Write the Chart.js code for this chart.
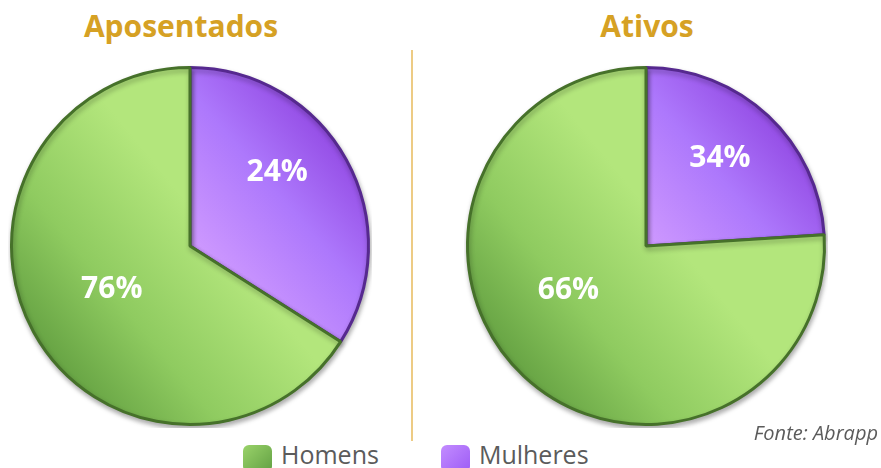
<!DOCTYPE html>
<html lang="pt-BR">
<head>
<meta charset="utf-8">
<script src="https://cdn.jsdelivr.net/npm/chart.js@4.4.1/dist/chart.umd.min.js"></script>
<style>
  html, body { margin: 0; padding: 0; background: #fff; }
  body { width: 881px; height: 468px; position: relative; overflow: hidden; font-family: "Open Sans", sans-serif; }
  .titulo { position: absolute; top: 5px; width: 300px; text-align: center; color: #D6A124; font-weight: 700; font-size: 30px; }
  .pizza { position: absolute; top: 64px; width: 364px; height: 364px; }
  #divisor { position: absolute; left: 411px; top: 50px; width: 2px; height: 391px; background: #EDCB84; }
  #legenda { position: absolute; top: 436px; left: 243px; display: flex; gap: 0; }
  .item { display: flex; align-items: center; color: #5b5b5b; font-size: 25px; margin-right: 62px; }
  .quadrado { width: 29px; height: 27px; border-radius: 6px; margin-right: 9px; margin-top: 9px; }
  #fonte { position: absolute; right: 3px; top: 419px; color: #5b5b5b; font-size: 20px; font-style: italic; }
</style>
</head>
<body>
<div class="titulo" style="left:31px">Aposentados</div>
<div class="titulo" style="left:497px">Ativos</div>
<div id="divisor"></div>
<canvas id="pizzaAposentados" class="pizza" style="left:8px"></canvas>
<canvas id="pizzaAtivos" class="pizza" style="left:464px"></canvas>
<div id="legenda"></div>
<div id="fonte">Fonte: Abrapp</div>

<script>
// dados (ordem de desenho: Mulheres primeiro, a partir do topo)
const categorias = ['Mulheres', 'Homens'];
const aposentadosFatias = [34, 66];          // tamanho dos setores como desenhados
const aposentadosRotulos = ['24%', '76%'];   // textos escritos nos setores
const ativosFatias = [24, 76];
const ativosRotulos = ['34%', '66%'];

// cores
const corBorda = ['#56298f', '#46712a'];

function gradiente(ctx, area, idx) {
    const w = area.right - area.left, h = area.bottom - area.top;
    let g;
    if (idx === 1) {
        g = ctx.createLinearGradient(area.left, area.bottom - h * 0.1, area.left + w * 0.55, area.top + h * 0.45);
        g.addColorStop(0, '#4f8c33');
        g.addColorStop(0.55, '#8fcb60');
        g.addColorStop(1, '#b3e67c');
    } else {
        const cx = area.left + w / 2, cy = area.top + h / 2;
        g = ctx.createLinearGradient(cx - w * 0.02, cy + h * 0.02, area.right - w * 0.05, area.top + h * 0.12);
        g.addColorStop(0, '#d29dff');
        g.addColorStop(0.5, '#ad78fc');
        g.addColorStop(1, '#8a3bdc');
    }
    return g;
}

// plugin: sombra leve e rotulos em branco
const rotulosPlugin = {
    id: 'rotulos',
    beforeDatasetsDraw(chart) {
        const c = chart.ctx;
        c.save();
        c.shadowColor = 'rgba(0,0,0,0.30)';
        c.shadowBlur = 5;
        c.shadowOffsetX = 1;
        c.shadowOffsetY = 3;
    },
    afterDatasetsDraw(chart, args, opts) {
        const c = chart.ctx;
        c.restore();
        const meta = chart.getDatasetMeta(0);
        c.save();
        c.fillStyle = '#ffffff';
        c.font = 'bold 30px "Open Sans"';
        c.textAlign = 'center';
        c.textBaseline = 'middle';
        meta.data.forEach((arc, i) => {
            const p = arc.getProps(['x', 'y', 'startAngle', 'endAngle', 'outerRadius'], true);
            const meio = (p.startAngle + p.endAngle) / 2 + (opts.desvio[i] || 0);
            const r = p.outerRadius * opts.fator[i];
            c.fillText(opts.textos[i], p.x + Math.cos(meio) * r, p.y + Math.sin(meio) * r);
        });
        c.restore();
    }
};

function criarPizza(id, fatias, rotulos, desvio) {
    return new Chart(document.getElementById(id), {
        type: 'pie',
        data: {
            labels: categorias,
            datasets: [{
                data: fatias,
                backgroundColor: (ctx) => {
                    const area = ctx.chart.chartArea;
                    if (!area) return ctx.dataIndex === 1 ? '#8fcb60' : '#ad78fc';
                    return gradiente(ctx.chart.ctx, area, ctx.dataIndex);
                },
                borderColor: corBorda,
                borderWidth: 3
            }]
        },
        options: {
            responsive: false,
            animation: false,
            layout: { padding: 2 },
            plugins: {
                legend: { display: false },
                tooltip: { enabled: false },
                rotulos: { textos: rotulos, fator: [0.64, 0.5], desvio: desvio }
            }
        },
        plugins: [rotulosPlugin]
    });
}

criarPizza('pizzaAposentados', aposentadosFatias, aposentadosRotulos, [-0.2, 0]);
criarPizza('pizzaAtivos', ativosFatias, ativosRotulos, [-0.05, 0.3]);

// legenda (Homens, Mulheres)
const corLegenda = {
    'Homens': 'linear-gradient(135deg, #9ad36a, #62a043)',
    'Mulheres': 'linear-gradient(135deg, #c38cff, #9d5cf5)'
};
const legenda = document.getElementById('legenda');
[...categorias].reverse().forEach(nome => {
    const item = document.createElement('div');
    item.className = 'item';
    const q = document.createElement('div');
    q.className = 'quadrado';
    q.style.background = corLegenda[nome];
    const t = document.createElement('span');
    t.textContent = nome;
    item.appendChild(q);
    item.appendChild(t);
    legenda.appendChild(item);
});
</script>
</body>
</html>
